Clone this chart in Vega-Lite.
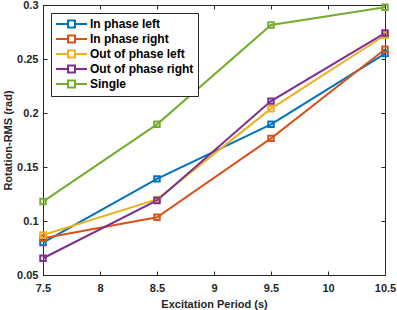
{
  "$schema": "https://vega.github.io/schema/vega-lite/v6.json",
  "width": 342,
  "height": 270,
  "autosize": {"type": "none"},
  "padding": {"left": 43, "top": 5, "right": 12, "bottom": 35},
  "background": "white",
  "config": {
    "font": "Liberation Sans",
    "view": {"stroke": "#262626", "strokeWidth": 1},
    "axis": {
      "labelFont": "Liberation Sans",
      "labelFontWeight": "bold",
      "labelFontSize": 11,
      "labelColor": "#262626",
      "titleFont": "Liberation Sans",
      "titleFontWeight": "bold",
      "titleFontSize": 11,
      "titleColor": "#262626",
      "domainColor": "#262626",
      "tickColor": "#262626",
      "gridColor": "#e6e6e6",
      "gridWidth": 1,
      "labelFlush": false
    }
  },
  "data": {
    "values": [
      {"period": 7.5, "series": "In phase left", "rms": 0.080},
      {"period": 8.5, "series": "In phase left", "rms": 0.139},
      {"period": 9.5, "series": "In phase left", "rms": 0.1895},
      {"period": 10.5, "series": "In phase left", "rms": 0.255},
      {"period": 7.5, "series": "In phase right", "rms": 0.084},
      {"period": 8.5, "series": "In phase right", "rms": 0.1035},
      {"period": 9.5, "series": "In phase right", "rms": 0.1765},
      {"period": 10.5, "series": "In phase right", "rms": 0.259},
      {"period": 7.5, "series": "Out of phase left", "rms": 0.087},
      {"period": 8.5, "series": "Out of phase left", "rms": 0.120},
      {"period": 9.5, "series": "Out of phase left", "rms": 0.204},
      {"period": 10.5, "series": "Out of phase left", "rms": 0.272},
      {"period": 7.5, "series": "Out of phase right", "rms": 0.0655},
      {"period": 8.5, "series": "Out of phase right", "rms": 0.119},
      {"period": 9.5, "series": "Out of phase right", "rms": 0.211},
      {"period": 10.5, "series": "Out of phase right", "rms": 0.274},
      {"period": 7.5, "series": "Single", "rms": 0.118},
      {"period": 8.5, "series": "Single", "rms": 0.1895},
      {"period": 9.5, "series": "Single", "rms": 0.2815},
      {"period": 10.5, "series": "Single", "rms": 0.298}
    ]
  },
  "layer": [
    {
      "mark": {"type": "line", "opacity": 0},
      "encoding": {
        "x": {"field": "period", "type": "quantitative",
          "scale": {"domain": [7.5, 10.5], "nice": false, "zero": false},
          "axis": {"orient": "top", "labels": false, "title": null, "grid": false, "domain": false, "tickSize": -4, "values": [7.5, 8, 8.5, 9, 9.5, 10, 10.5]}},
        "y": {"field": "rms", "type": "quantitative",
          "scale": {"domain": [0.05, 0.3], "nice": false, "zero": false},
          "axis": {"orient": "right", "labels": false, "title": null, "grid": false, "domain": false, "tickSize": -4, "values": [0.05, 0.1, 0.15, 0.2, 0.25, 0.3]}},
        "detail": {"field": "series"}
      }
    },
    {
      "mark": {"type": "line", "strokeWidth": 2, "point": {"shape": "square", "filled": false, "size": 30, "strokeWidth": 2}},
      "encoding": {
        "x": {"field": "period", "type": "quantitative",
          "scale": {"domain": [7.5, 10.5], "nice": false, "zero": false},
          "axis": {"orient": "bottom", "title": "Excitation Period (s)", "format": "~g", "tickSize": -4, "labelPadding": 11, "titlePadding": 5, "values": [7.5, 8, 8.5, 9, 9.5, 10, 10.5]}},
        "y": {"field": "rms", "type": "quantitative",
          "scale": {"domain": [0.05, 0.3], "nice": false, "zero": false},
          "axis": {"orient": "left", "title": "Rotation-RMS (rad)", "format": "~g", "tickSize": -4, "labelPadding": 9, "titlePadding": 3, "values": [0.05, 0.1, 0.15, 0.2, 0.25, 0.3]}},
        "color": {"field": "series", "type": "nominal",
          "scale": {
            "domain": ["In phase left", "In phase right", "Out of phase left", "Out of phase right", "Single"],
            "range": ["#0072BD", "#D95319", "#EDB120", "#7E2F8E", "#77AC30"]},
          "legend": {
            "title": null,
            "orient": "none",
            "legendX": 8,
            "legendY": 8,
            "fillColor": "white",
            "strokeColor": "#262626",
            "padding": 4,
            "symbolType": "M-1,0H1M2.17,0H4.17M1,-0.58H2.17V0.58H1Z",
            "symbolSize": 144,
            "symbolStrokeWidth": 2,
            "symbolFillColor": "transparent",
            "labelFont": "Liberation Sans",
            "labelFontWeight": "bold",
            "labelFontSize": 12,
            "labelColor": "#000000",
            "rowPadding": -2,
            "labelOffset": 21
          }}
      }
    }
  ],
  "resolve": {"axis": {"x": "independent", "y": "independent"}}
}
